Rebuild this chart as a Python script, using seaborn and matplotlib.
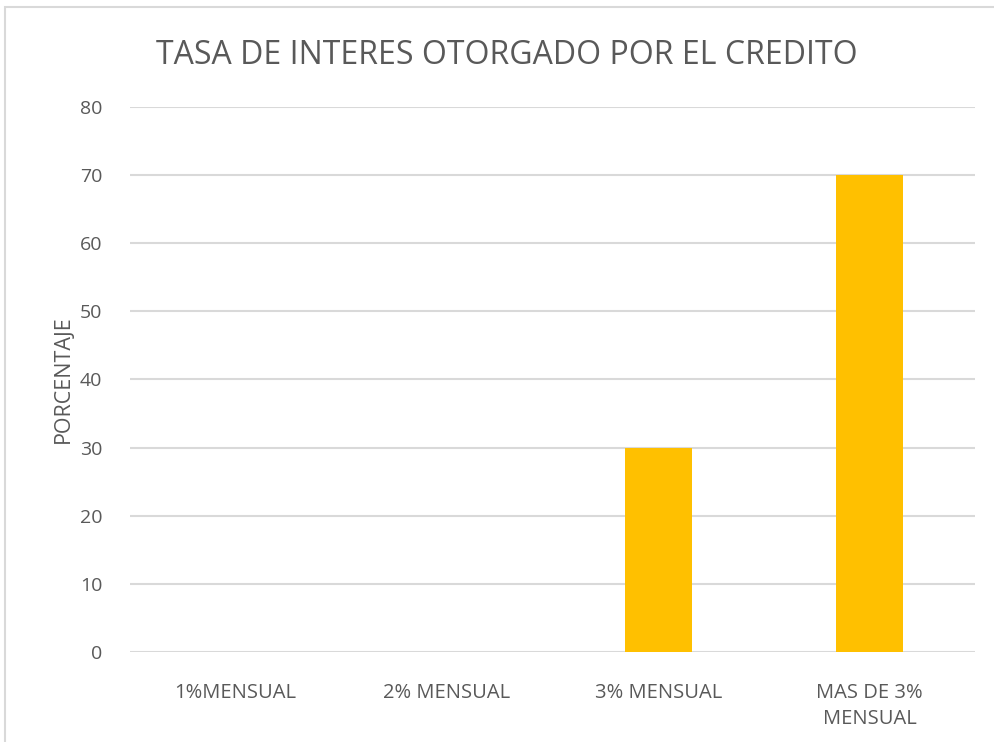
import pandas as pd
import matplotlib.pyplot as plt
import seaborn as sns
from matplotlib.patches import Rectangle

# Chart data
categorias = ['1%MENSUAL', '2% MENSUAL', '3% MENSUAL', 'MAS DE 3%\nMENSUAL']
porcentaje = [0, 0, 30, 70]
y_ticks = [0, 10, 20, 30, 40, 50, 60, 70, 80]

data = pd.DataFrame({'categoria': categorias, 'porcentaje': porcentaje})

sns.set_theme(style='white')
plt.rcParams['font.family'] = ['Open Sans', 'DejaVu Sans']
text_color = '#595959'
grid_color = '#d9d9d9'

fig = plt.figure(figsize=(9.94, 7.42), dpi=100)
ax = fig.add_axes([0.1308, 0.1213, 0.8502, 0.7345])

sns.barplot(data=data, x='categoria', y='porcentaje', color='#FFC000',
            saturation=1, width=0.317, linewidth=0, ax=ax, zorder=3)

ax.set_ylim(0, 80)
ax.set_xlim(-0.5, 3.5)
ax.set_yticks(y_ticks)
ax.yaxis.grid(True, color=grid_color, linewidth=1.5, zorder=0)
ax.set_axisbelow(True)
for s in ax.spines.values():
    s.set_visible(False)
ax.tick_params(axis='both', length=0, colors=text_color)
ax.tick_params(axis='y', labelsize=14, pad=20)
ax.tick_params(axis='x', labelsize=14.5, pad=22)
for lab in ax.get_xticklabels():
    lab.set_linespacing(1.45)

ax.set_xlabel('')
ax.set_ylabel('PORCENTAJE', fontsize=15.5, color=text_color, labelpad=4)

fig.text(0.51, 0.925, 'TASA DE INTERES OTORGADO POR EL CREDITO',
         ha='center', va='center', fontsize=23, color=text_color)

# outer chart frame
fig.patches.append(Rectangle((5 / 994, -0.1), 1.2, 1.1 - 7 / 742,
                             transform=fig.transFigure, fill=False,
                             edgecolor=grid_color, linewidth=1.5))

fig.savefig('out.png', dpi=100)
